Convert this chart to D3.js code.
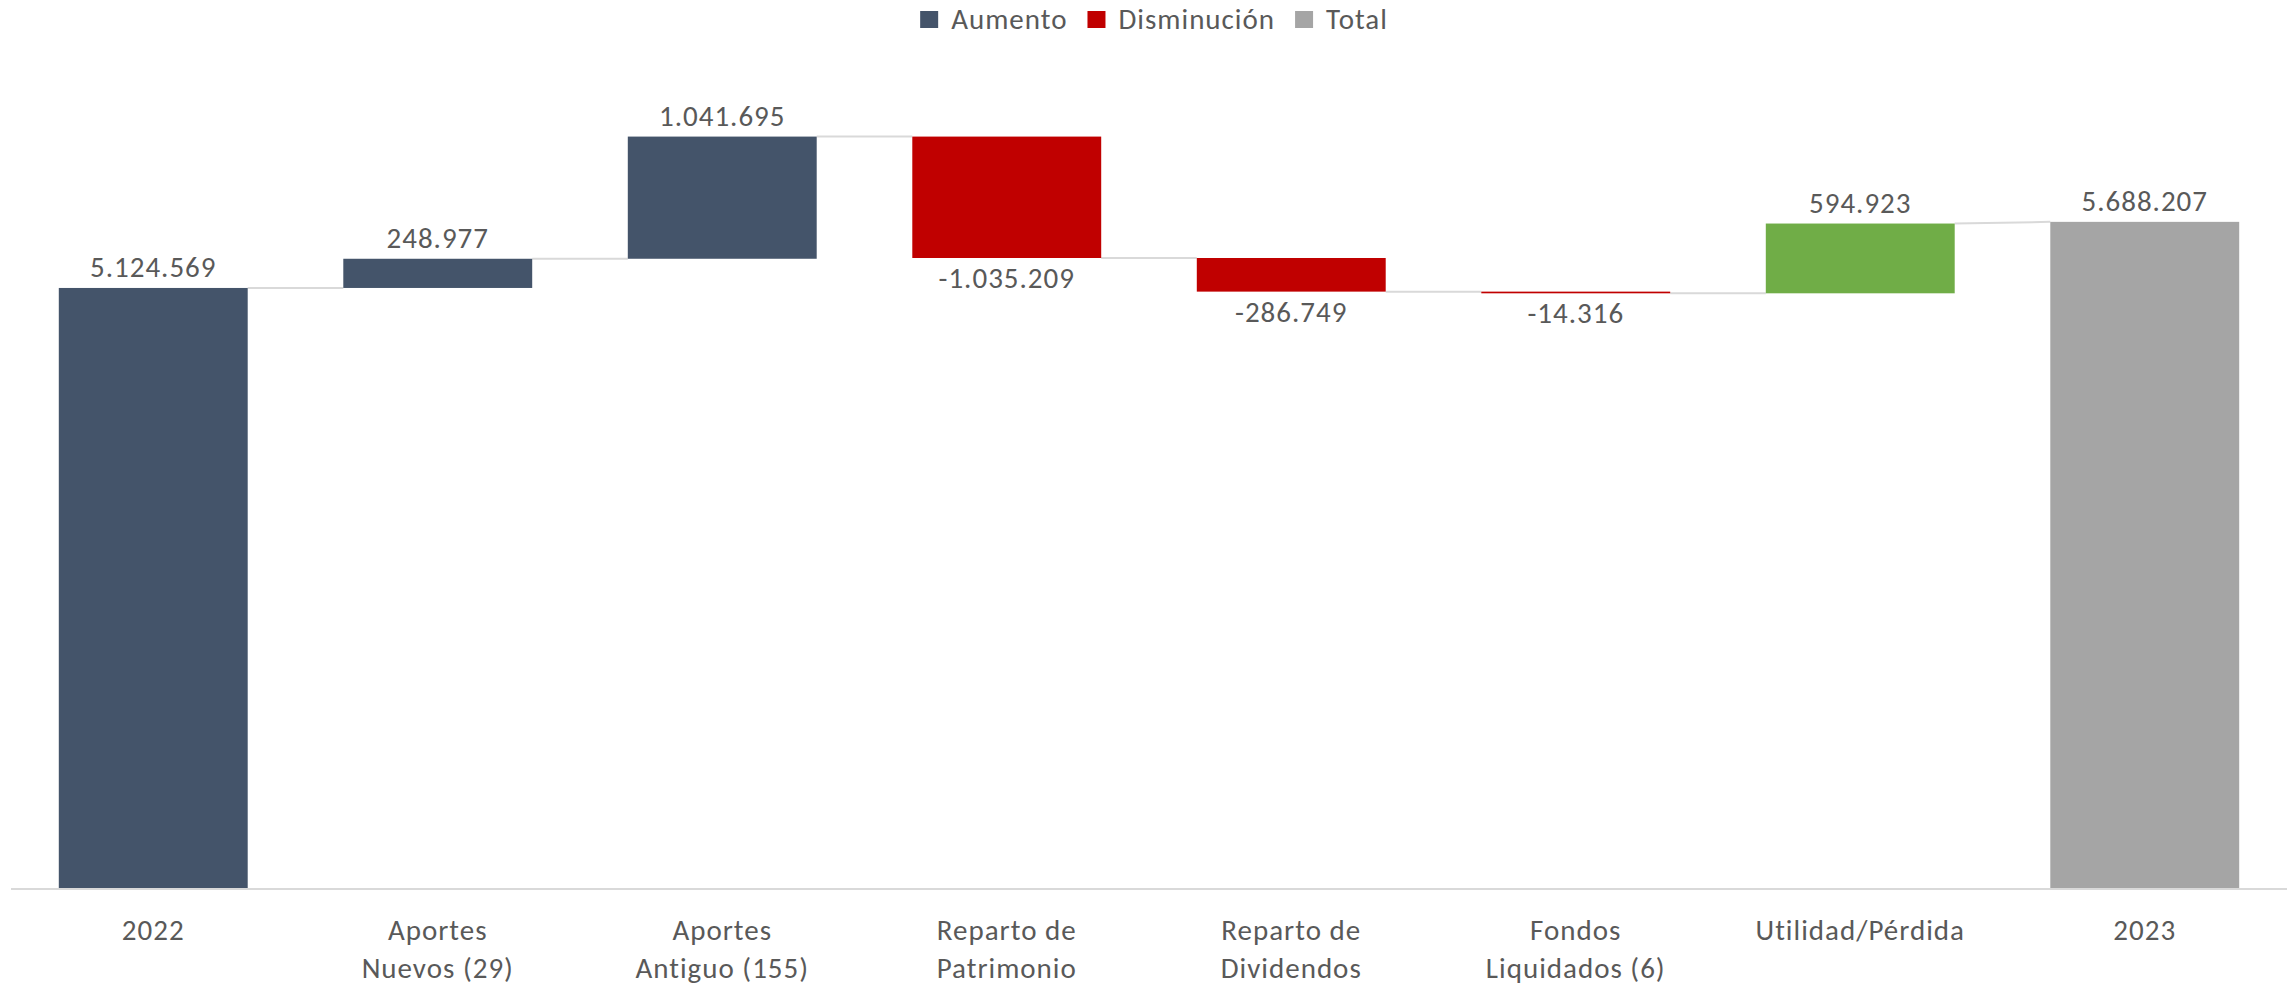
<!DOCTYPE html>
<html>
<head>
<meta charset="utf-8">
<script src="https://cdn.jsdelivr.net/npm/d3@7"></script>
<style>
  html, body { margin: 0; padding: 0; background: #ffffff; }
  svg { display: block; }
  text { font-family: Carlito, Lato, "Open Sans", sans-serif; fill: #595959; letter-spacing: 1px; }
</style>
</head>
<body>
<svg id="chart" width="2293" height="986"></svg>
<script>
// ---- data ----
const categories = ["2022", "Aportes Nuevos (29)", "Aportes Antiguo (155)", "Reparto de Patrimonio",
                    "Reparto de Dividendos", "Fondos Liquidados (6)", "Utilidad/Pérdida", "2023"];
const categoryLines = [["2022"], ["Aportes", "Nuevos (29)"], ["Aportes", "Antiguo (155)"],
                       ["Reparto de", "Patrimonio"], ["Reparto de", "Dividendos"],
                       ["Fondos", "Liquidados (6)"], ["Utilidad/Pérdida"], ["2023"]];
const values = [5124569, 248977, 1041695, -1035209, -286749, -14316, 594923, 5688207];
const kinds = ["start", "increase", "increase", "decrease", "decrease", "decrease", "profit", "total"];
const legendItems = ["Aumento", "Disminución", "Total"];
const yMax = 7000000;

// ---- styles ----
const kindColor = { start: "#44546A", increase: "#44546A", decrease: "#C00000", profit: "#70AD47", total: "#A5A5A5" };
const legendColor = { "Aumento": "#44546A", "Disminución": "#C00000", "Total": "#A5A5A5" };
const FS = "29px";

const locale = d3.formatLocale({ decimal: ",", thousands: ".", grouping: [3], currency: ["", ""], minus: "-" });
const fmt = locale.format(",d");

// ---- compute waterfall ----
let run = 0;
const bars = values.map((v, i) => {
  let start, end;
  if (kinds[i] === "start" || kinds[i] === "total") { start = 0; end = v; run = v; }
  else { start = run; end = run + v; run = end; }
  return { i, cat: categories[i], v, kind: kinds[i], start, end, lo: Math.min(start, end), hi: Math.max(start, end) };
});

const svg = d3.select("#chart");
const x = d3.scaleBand().domain(d3.range(categories.length)).range([11, 2287]).paddingInner(0.336).paddingOuter(0.168);
const y = d3.scaleLinear().domain([0, yMax]).range([889, 68]);

// connectors
const connectors = bars.slice(0, -1).map((b, k) => {
  const nb = bars[k + 1];
  const level2 = (nb.kind === "total") ? nb.end : nb.start;
  return { x1: x(k) + x.bandwidth(), x2: x(k + 1), y1: b.end, y2: level2 };
});
svg.append("g").selectAll("line").data(connectors).join("line")
  .attr("x1", d => d.x1).attr("x2", d => d.x2)
  .attr("y1", d => y(d.y1)).attr("y2", d => y(d.y2))
  .attr("stroke", "#D9D9D9").attr("stroke-width", 2);

// bars
svg.append("g").selectAll("rect").data(bars).join("rect")
  .attr("x", d => x(d.i)).attr("width", x.bandwidth())
  .attr("y", d => y(d.hi)).attr("height", d => Math.max(1.5, y(d.lo) - y(d.hi)))
  .attr("fill", d => kindColor[d.kind]);

// axis
const axis = svg.append("g").attr("transform", "translate(0,889)")
  .call(d3.axisBottom(x).tickSize(0).tickPadding(0).tickFormat(() => ""));
axis.select(".domain").attr("stroke", "#D9D9D9").attr("stroke-width", 2).attr("d", "M11,0H2287");
axis.selectAll(".tick text").each(function (d) {
  const t = d3.select(this).attr("y", 0).attr("dy", null)
    .style("font-size", FS).attr("fill", "#595959");
  categoryLines[d].forEach((line, j) => {
    t.append("tspan").attr("x", 0).attr("y", 51 + j * 38).text(line);
  });
});
axis.attr("font-family", null).attr("font-size", null);

// value labels
svg.append("g").selectAll("text").data(bars).join("text")
  .attr("x", d => x(d.i) + x.bandwidth() / 2)
  .attr("y", d => d.v < 0 ? y(d.lo) + 30 : y(d.hi) - 11)
  .attr("text-anchor", "middle")
  .style("font-size", FS)
  .text(d => fmt(d.v));

// legend
const lg = svg.append("g");
let lx = 0;
legendItems.forEach(name => {
  const g = lg.append("g").attr("transform", `translate(${lx},0)`);
  g.append("rect").attr("x", 0).attr("y", 11).attr("width", 18).attr("height", 17).attr("fill", legendColor[name]);
  const t = g.append("text").attr("x", 31).attr("y", 29).style("font-size", FS).text(name);
  lx += 31 + t.node().getComputedTextLength() + 20;
});
const lw = lx - 20;
lg.attr("transform", `translate(${1154 - lw / 2},0)`);
</script>
</body>
</html>
